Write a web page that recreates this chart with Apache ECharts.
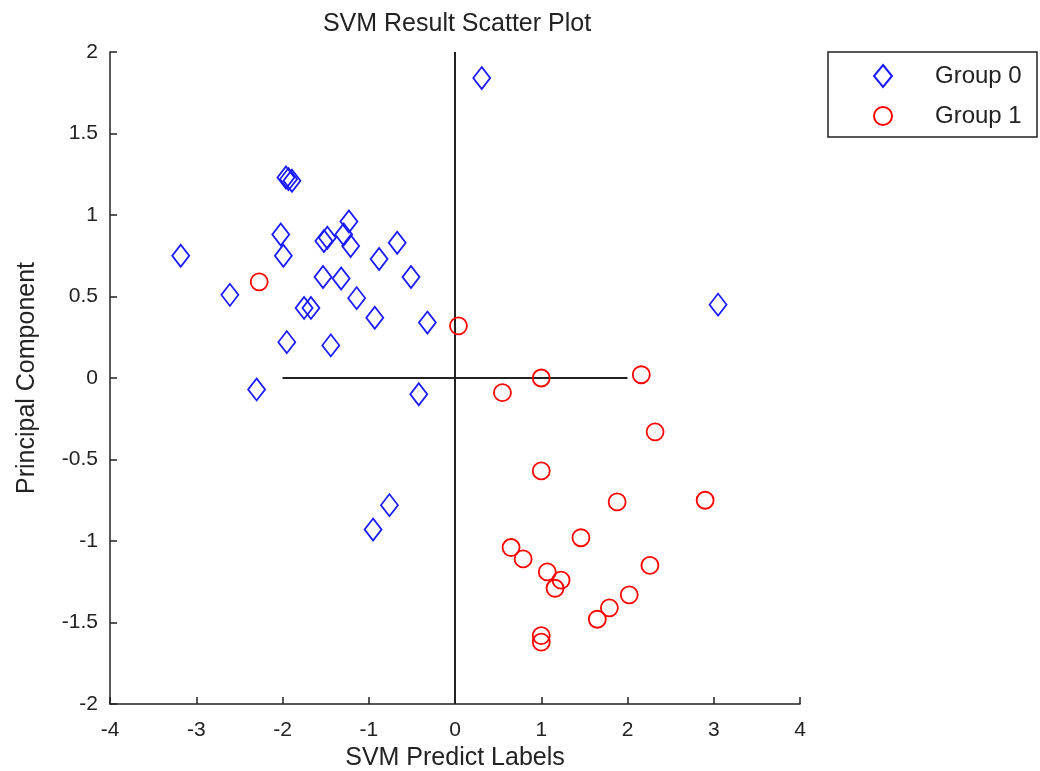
<!DOCTYPE html>
<html>
<head>
<meta charset="utf-8">
<script src="https://cdn.jsdelivr.net/npm/echarts@6/dist/echarts.min.js"></script>
<style>
  html, body { margin: 0; padding: 0; background: #fff; }
  #chart { width: 1040px; height: 771px; }
</style>
</head>
<body>
<div id="chart"></div>
<script>
// ---- data ----
const titleText = 'SVM Result Scatter Plot';
const xName = 'SVM Predict Labels';
const yName = 'Principal Component';
const legendNames = ['Group 0', 'Group 1'];
const xTicks = [-4, -3, -2, -1, 0, 1, 2, 3, 4];
const yTicks = [-2, -1.5, -1, -0.5, 0, 0.5, 1, 1.5, 2];

const group0 = [
  [0.31, 1.84], [-1.96, 1.23], [-1.93, 1.22], [-1.89, 1.21],
  [-3.18, 0.75], [-2.61, 0.51], [-2.02, 0.88], [-1.99, 0.75],
  [-1.95, 0.22], [-2.30, -0.07], [-1.52, 0.84], [-1.48, 0.86],
  [-1.29, 0.88], [-1.23, 0.96], [-1.21, 0.81], [-0.67, 0.83],
  [-0.88, 0.73], [-0.51, 0.62], [-1.53, 0.62], [-1.32, 0.61],
  [-1.14, 0.49], [-1.75, 0.43], [-1.67, 0.43], [-0.93, 0.37],
  [-0.32, 0.34], [-1.44, 0.20], [-0.42, -0.10], [-0.76, -0.78],
  [-0.95, -0.93], [3.05, 0.45]
];
const group1 = [
  [-2.27, 0.59], [0.04, 0.32], [0.55, -0.09], [1.00, 0.00],
  [2.16, 0.02], [2.32, -0.33], [1.00, -0.57], [1.88, -0.76],
  [2.90, -0.75], [1.46, -0.98], [0.65, -1.04], [0.79, -1.11],
  [1.07, -1.19], [1.23, -1.24], [1.16, -1.29], [2.26, -1.15],
  [2.02, -1.33], [1.79, -1.41], [1.65, -1.48], [1.00, -1.58],
  [1.00, -1.62]
];
const vLine = [[0, -2], [0, 2]];
const hLine = [[-2, 0], [2, 0]];

// ---- chart ----
const font = 'Liberation Sans, Arial, sans-serif';
const chart = echarts.init(document.getElementById('chart'), null, { renderer: 'canvas' });
chart.setOption({
  animation: false,
  backgroundColor: '#fff',
  title: {
    text: titleText,
    left: 452, top: 7, textAlign: 'center',
    textStyle: { fontFamily: font, fontSize: 25, fontWeight: 'normal', color: '#222' }
  },
  legend: {
    orient: 'vertical',
    left: 868, top: 59,
    itemWidth: 18, itemHeight: 22, itemGap: 16,
    data: legendNames,
    textStyle: { fontFamily: font, fontSize: 24, color: '#222', lineHeight: 22, padding: [0, 0, 0, 38] }
  },
  graphic: [{
    type: 'rect',
    shape: { x: 828, y: 52, width: 209, height: 85 },
    style: { fill: 'none', stroke: '#222', lineWidth: 1.5 },
    silent: true
  }],
  grid: { left: 110, right: 240, top: 52, bottom: 67, containLabel: false, outerBoundsMode: 'none' },
  xAxis: {
    type: 'value', min: -4, max: 4, interval: 1,
    name: xName, nameLocation: 'middle', nameGap: 41,
    nameTextStyle: { fontFamily: font, fontSize: 25, color: '#222' },
    axisLine: { show: true, onZero: false, lineStyle: { color: '#222', width: 1.5 } },
    axisTick: { show: true, inside: true, length: 7, lineStyle: { color: '#222', width: 1.5 } },
    axisLabel: { fontFamily: font, fontSize: 21, color: '#222', margin: 16 },
    splitLine: { show: false }
  },
  yAxis: {
    type: 'value', min: -2, max: 2, interval: 0.5,
    name: yName, nameLocation: 'middle', nameGap: 70,
    nameTextStyle: { fontFamily: font, fontSize: 25, color: '#222' },
    axisLine: { show: true, onZero: false, lineStyle: { color: '#222', width: 1.5 } },
    axisTick: { show: true, inside: true, length: 7, lineStyle: { color: '#222', width: 1.5 } },
    axisLabel: { fontFamily: font, fontSize: 21, color: '#222', margin: 12 },
    splitLine: { show: false }
  },
  series: [
    {
      type: 'line', data: vLine, symbol: 'none', silent: true,
      lineStyle: { color: '#222', width: 2 }, z: 1
    },
    {
      type: 'line', data: hLine, symbol: 'none', silent: true,
      lineStyle: { color: '#222', width: 2 }, z: 1
    },
    {
      name: legendNames[0], type: 'scatter', data: group0,
      symbol: 'diamond', symbolSize: [17, 22],
      itemStyle: { color: 'rgba(0,0,0,0)', borderColor: '#1a1aff', borderWidth: 1.8, opacity: 1 },
      z: 3
    },
    {
      name: legendNames[1], type: 'scatter', data: group1,
      symbol: 'circle', symbolSize: 17,
      itemStyle: { color: 'rgba(0,0,0,0)', borderColor: '#ff0000', borderWidth: 1.8, opacity: 1 },
      z: 3
    }
  ]
});
</script>
</body>
</html>
